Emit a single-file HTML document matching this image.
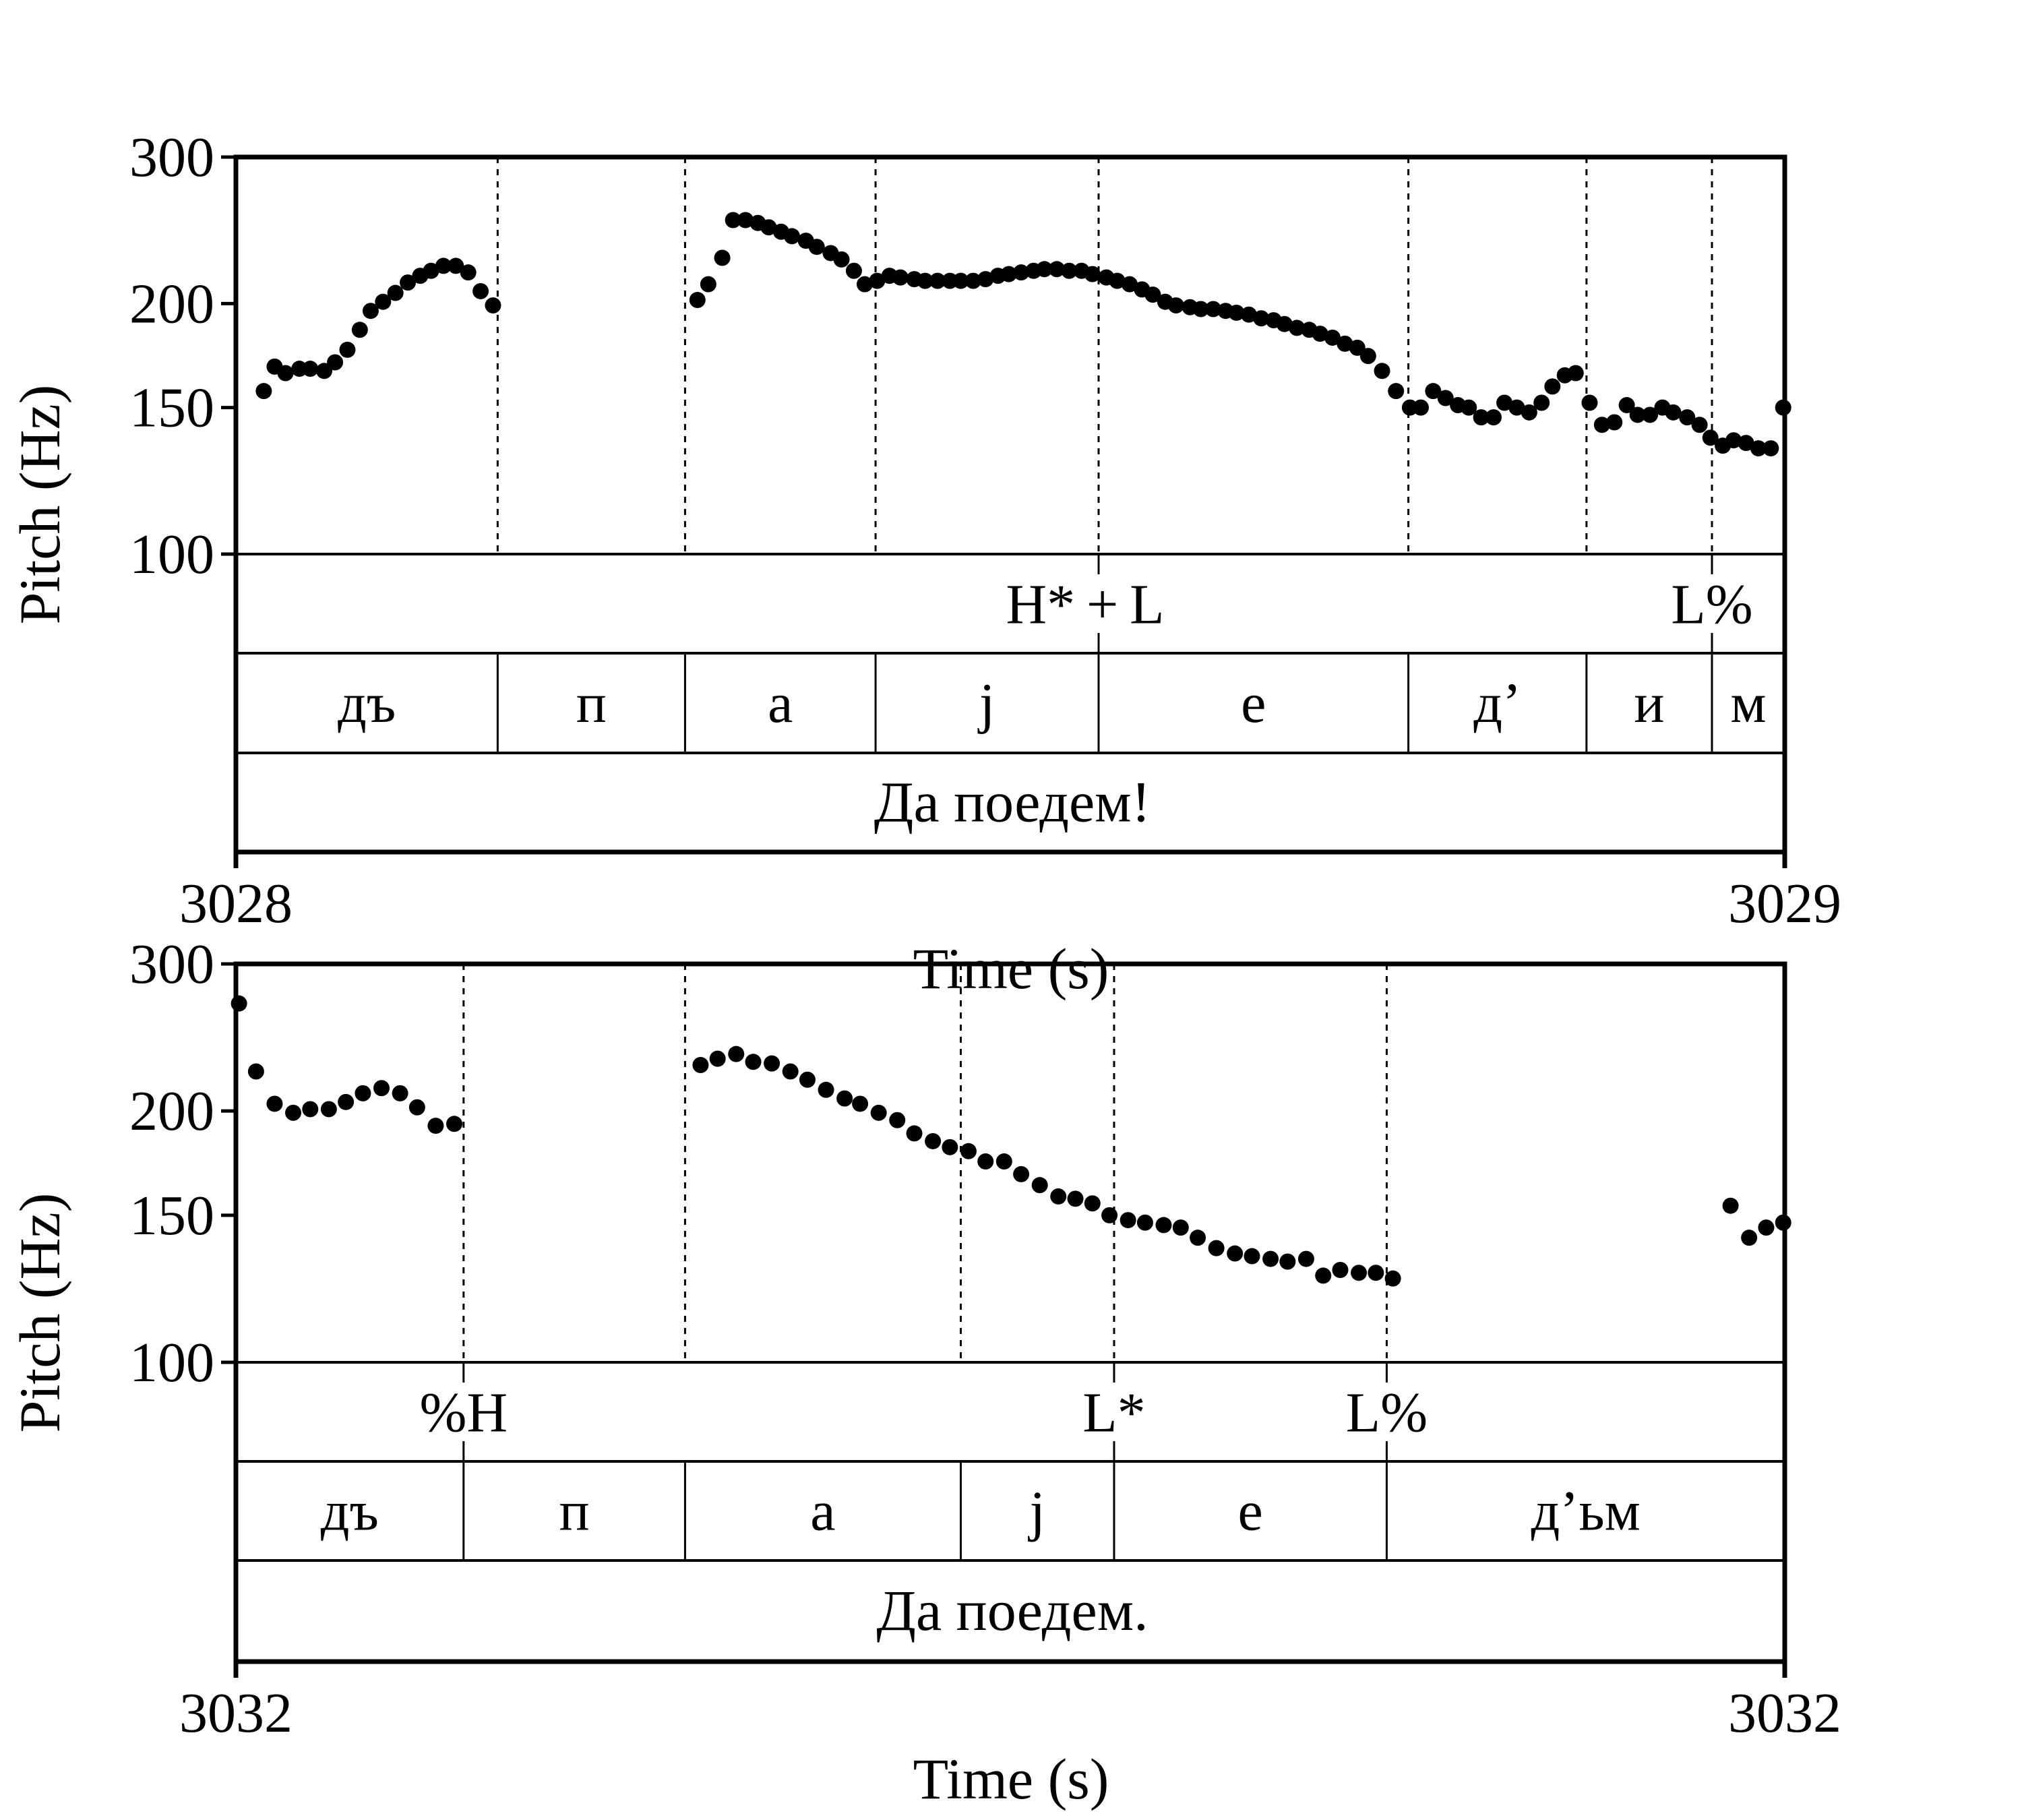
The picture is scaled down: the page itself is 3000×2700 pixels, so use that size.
<!DOCTYPE html>
<html><head><meta charset="utf-8">
<style>
html,body{margin:0;padding:0;background:#fff;}
svg{display:block;}
text{font-family:"Liberation Serif",serif;fill:#000;}
</style></head>
<body>
<svg id="chart" width="3000" height="2700" viewBox="0 0 3000 2700" xmlns="http://www.w3.org/2000/svg"></svg>
<script>
// ---- data: panel 1 (Да поедем!) ----
const topTimesMs = [18,25,32,41,48,57,64,72,80,87,95,103,111,119,126,134,142,150,158,166,
298,305,314,321,329,337,344,352,359,368,375,384,391,399,406,414,422,429,438,445,453,461,468,476,484,492,499,507,515,522,530,538,546,553,562,569,577,585,592,600,607,616,623,631,639,646,654,662,670,677,685,693,700,708,716,724,731,740,749,758,765,773,781,789,796,804,812,819,827,835,843,850,858,865,874,882,890,898,905,913,921,928,937,945,952,960,967,975,983,991,999];
const topPitchHz = [157,168,165,167,167,166,170,176,186,196,201,206,212,216,219,222,222,218,207,199,
202,211,227,252,252,250,247,244,241,238,234,230,226,219,211,213,216,215,214,213,213,213,213,213,214,216,217,218,219,220,220,219,219,217,215,213,211,208,205,201,199,198,197,197,196,195,194,192,191,189,187,186,184,182,179,177,173,166,157,150,150,157,154,151,150,146,146,152,150,148,152,159,164,165,152,143,144,151,147,147,150,148,146,143,138,135,137,136,134,134,150];
const topBoundMs = [169,290,413,557,757,872,953];
const topSegLabels = ["дъ","п","а","j","е","д’","и","м"];
const topToneMs = [557,953];
const topToneLabels = ["H*\u2009+\u2009L","L%"];
const topToneOffsets = [-20,0];
const topSentence = "Да поедем!";
const topTickLabels = ["3028","3029"];
// ---- data: panel 2 (Да поедем.) ----
const botTimesMs = [2,13,25,37,48,60,71,82,94,106,117,129,141,
300,311,323,334,346,358,369,381,393,403,415,427,438,450,461,473,484,496,507,519,531,542,553,564,576,587,599,610,621,633,645,656,668,679,691,702,713,725,736,747,
965,977,988,999];
const botPitchHz = [269,223,204,199,201,201,205,210,213,210,202,192,193,
227,231,234,229,228,223,218,212,207,204,199,195,188,184,181,179,174,174,168,163,158,157,155,150,148,147,146,145,141,137,135,134,133,132,133,127,129,128,128,126,
154,141,145,147];
const botBoundMs = [147,290,468,567,743];
const botSegLabels = ["дъ","п","а","j","е","д’ьм"];
const botToneMs = [147,567,743];
const botToneLabels = ["%H","L*","L%"];
const botSentence = "Да поедем.";
const botTickLabels = ["3032","3032"];
const yTickValues = [300,200,150,100];

const NS = "http://www.w3.org/2000/svg";
const svg = document.getElementById("chart");
const X0 = 350, X1 = 2648;
function xScale(ms){ return X0 + (X1 - X0) * ms / 1000; }
function mk(tag, attrs, parent){
  const e = document.createElementNS(NS, tag);
  for (const k in attrs) e.setAttribute(k, attrs[k]);
  (parent || svg).appendChild(e);
  return e;
}

function panel(p){
  const g = mk("g", {});
  
  
  const yTop = p.yTop, y100 = p.y100, t1 = p.t1, t2 = p.t2, yBot = p.yBot;
  const yScale = f => y100 - (y100 - yTop) * Math.log(f / 100) / Math.log(3);

  p.bounds.forEach(ms => {
    const l = mk("line", {x1:xScale(ms), x2:xScale(ms), y1:yTop, y2:y100, stroke:"#000", "stroke-width":3, "stroke-dasharray":"9 9"}, g);
    
    
  });
  [y100, t1, t2].forEach(y => {
    const l = mk("line", {x1:X0, x2:X1, y1:y, y2:y, stroke:"#000", "stroke-width":4}, g);
    
    
  });
  p.bounds.forEach(ms => {
    const l = mk("line", {x1:xScale(ms), x2:xScale(ms), y1:t1, y2:t2, stroke:"#000", "stroke-width":3}, g);
    
    
  });
  const edges = [0].concat(p.bounds).concat([1000]);
  p.segs.forEach((s, i) => {
    const t = mk("text", {x:(xScale(edges[i]) + xScale(edges[i+1])) / 2, y:(t1 + t2) / 2 + 28, "font-size":84, "text-anchor":"middle"}, g);
    t.textContent = s;
    
    
  });
  p.tones.forEach((ms, i) => {
    const x = xScale(ms);
    const a = mk("line", {x1:x, x2:x, y1:y100, y2:y100 + 30, stroke:"#000", "stroke-width":3}, g);
    
    
    const b = mk("line", {x1:x, x2:x, y1:t1 - 30, y2:t1, stroke:"#000", "stroke-width":3}, g);
    
    
    const t = mk("text", {x:x + (p.toneOff ? p.toneOff[i] : 0), y:(y100 + t1) / 2 + 29, "font-size":84, "text-anchor":"middle"}, g);
    t.textContent = p.toneLabels[i];
    
    
  });
  const st = mk("text", {x:1502, y:(t2 + yBot) / 2 + 28, "font-size":86, "text-anchor":"middle"}, g);
  st.textContent = p.sentence;
  
  
  const fr = mk("rect", {x:X0, y:yTop, width:X1 - X0, height:yBot - yTop, fill:"none", stroke:"#000", "stroke-width":7}, g);
  
  
  yTickValues.forEach(v => {
    const y = yScale(v);
    const l = mk("line", {x1:X0 - 22, x2:X0, y1:y, y2:y, stroke:"#000", "stroke-width":5}, g);
    
    
    const t = mk("text", {x:318, y:y + 28, "font-size":84, "text-anchor":"end"}, g);
    t.textContent = v;
    
    
  });
  [X0, X1].forEach((x, i) => {
    const l = mk("line", {x1:x, x2:x, y1:yBot, y2:yBot + 24, stroke:"#000", "stroke-width":7}, g);
    
    
    const t = mk("text", {x:x, y:yBot + 104, "font-size":84, "text-anchor":"middle"}, g);
    t.textContent = p.xTicks[i];
    
    
  });
  const yt = mk("text", {x:0, y:0, "font-size":86, "text-anchor":"middle", transform:"translate(88," + (yTop + yBot) / 2 + ") rotate(-90)"}, g);
  yt.textContent = "Pitch (Hz)";
  
  
  const xt = mk("text", {x:1500, y:p.xTitleY, "font-size":86, "text-anchor":"middle"}, g);
  xt.textContent = "Time (s)";
  
  
  p.times.forEach((ms, i) => {
    const c = mk("circle", {cx:xScale(ms), cy:yScale(p.pitch[i]), r:12, fill:"#000"}, g);
    
    
  });
}

panel({name:"top-panel", yTop:233, y100:822, t1:969, t2:1117, yBot:1264,
  bounds:topBoundMs, segs:topSegLabels, tones:topToneMs, toneLabels:topToneLabels, toneOff:topToneOffsets,
  sentence:topSentence, xTicks:topTickLabels, times:topTimesMs, pitch:topPitchHz, xTitleY:1466});
panel({name:"bottom-panel", yTop:1430, y100:2021, t1:2168, t2:2315, yBot:2465,
  bounds:botBoundMs, segs:botSegLabels, tones:botToneMs, toneLabels:botToneLabels,
  sentence:botSentence, xTicks:botTickLabels, times:botTimesMs, pitch:botPitchHz, xTitleY:2668});
</script>
</body></html>
